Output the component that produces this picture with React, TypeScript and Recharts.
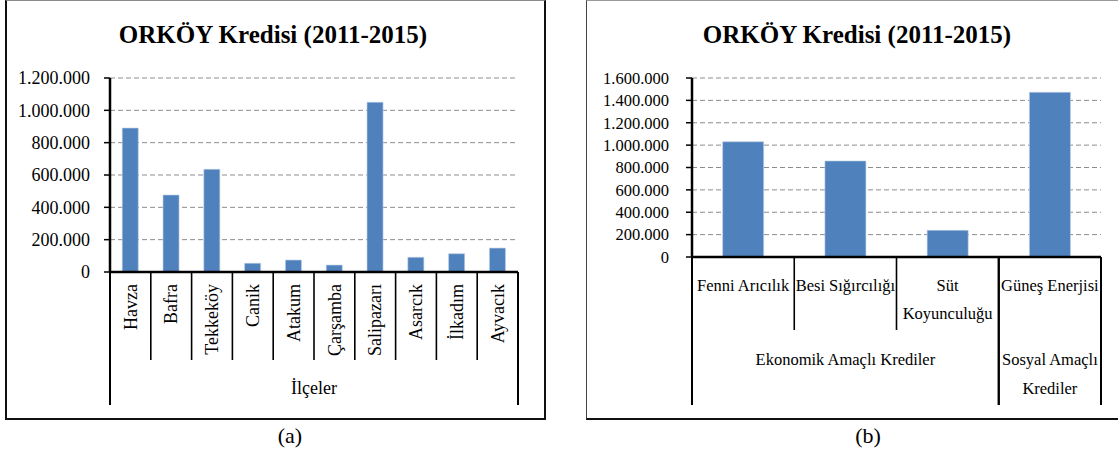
import React from 'react';
import { BarChart, Bar, XAxis, YAxis, CartesianGrid } from 'recharts';

const chartTitle = 'ORKÖY Kredisi (2011-2015)';

// (a) districts
const districts = ['Havza', 'Bafra', 'Tekkeköy', 'Canik', 'Atakum', 'Çarşamba', 'Salipazarı', 'Asarcık', 'İlkadım', 'Ayvacık'];
const districtCredits = [890000, 476000, 635000, 54000, 74000, 43000, 1050000, 91000, 113000, 148000];
const leftTicks = [0, 200000, 400000, 600000, 800000, 1000000, 1200000];
const leftGroups = [{ lines: ['İlçeler'], start: 0, end: 9 }];

// (b) credit purposes
const purposes = ['Fenni Arıcılık', 'Besi Sığırcılığı', 'Süt Koyunculuğu', 'Güneş Enerjisi'];
const purposeLines = [['Fenni Arıcılık'], ['Besi Sığırcılığı'], ['Süt', 'Koyunculuğu'], ['Güneş Enerjisi']];
const purposeCredits = [1030000, 858000, 238000, 1472000];
const rightTicks = [0, 200000, 400000, 600000, 800000, 1000000, 1200000, 1400000, 1600000];
const rightGroups = [
  { lines: ['Ekonomik Amaçlı Krediler'], start: 0, end: 2 },
  { lines: ['Sosyal Amaçlı', 'Krediler'], start: 3, end: 3 },
];

const captions = ['(a)', '(b)'];

const leftData = districts.map((name, i) => ({ name, value: districtCredits[i] }));
const rightData = purposes.map((name, i) => ({ name, value: purposeCredits[i] }));

const FONT = "'Liberation Serif', 'Times New Roman', serif";
const BAR_COLOR = '#4F81BD';
const txt = (size: number): React.CSSProperties => ({ fontFamily: FONT, fontSize: size, fill: '#000' });

const fmt = (v: number) => String(v).replace(/\B(?=(\d{3})+(?!\d))/g, '.');

const LEFT_BAND = 40.8;
const RIGHT_BAND = 102.25;

const YTick = (props: any) => {
  const { x, y, payload, size } = props;
  return (
    <text x={x} y={y} textAnchor="end" dy="0.35em" style={txt(size)}>
      {fmt(payload.value)}
    </text>
  );
};

const LeftTick = (props: any) => {
  const { x, y, payload, index } = props;
  const i = typeof index === 'number' ? index : payload.index;
  const half = LEFT_BAND / 2;
  const els: any[] = [];
  leftGroups.forEach((g, gi) => {
    if (i === g.start) {
      els.push(<line key={'gs' + gi} x1={x - half} y1={y} x2={x - half} y2={y + 133} stroke="#000" strokeWidth={2} />);
      const cx = x + ((g.end - g.start) * LEFT_BAND) / 2;
      g.lines.forEach((t, li) => {
        els.push(
          <text key={'gl' + gi + li} x={cx} y={y + 116 + li * 28} textAnchor="middle" dy="0.35em" style={txt(18)}>
            {t}
          </text>
        );
      });
    }
  });
  const isEnd = leftGroups.some((g) => g.end === i);
  return (
    <g>
      <line x1={x + half} y1={y} x2={x + half} y2={y + (isEnd ? 133 : 88)} stroke="#000" strokeWidth={isEnd ? 2 : 1.6} />
      <text x={x} y={y + 12} transform={`rotate(-90, ${x}, ${y + 12})`} textAnchor="end" dy="0.35em" style={txt(18)}>
        {payload.value}
      </text>
      {els}
    </g>
  );
};

const RightTick = (props: any) => {
  const { x, y, payload, index } = props;
  const i = typeof index === 'number' ? index : payload.index;
  const half = RIGHT_BAND / 2;
  const els: any[] = [];
  rightGroups.forEach((g, gi) => {
    if (i === g.start) {
      els.push(<line key={'gs' + gi} x1={x - half} y1={y} x2={x - half} y2={y + 148} stroke="#000" strokeWidth={2} />);
      const cx = x + ((g.end - g.start) * RIGHT_BAND) / 2;
      g.lines.forEach((t, li) => {
        els.push(
          <text key={'gl' + gi + li} x={cx} y={y + 102 + li * 29} textAnchor="middle" dy="0.35em" style={txt(16.5)}>
            {t}
          </text>
        );
      });
    }
  });
  const isEnd = rightGroups.some((g) => g.end === i);
  const lines = purposeLines[i] || [payload.value];
  return (
    <g>
      <line x1={x + half} y1={y} x2={x + half} y2={y + (isEnd ? 148 : 73)} stroke="#000" strokeWidth={isEnd ? 2 : 1.6} />
      {lines.map((t, li) => (
        <text key={li} x={x} y={y + 28 + li * 28} textAnchor="middle" dy="0.35em" style={txt(16.5)}>
          {t}
        </text>
      ))}
      {els}
    </g>
  );
};

const titleStyle = (cx: number): React.CSSProperties => ({
  position: 'absolute',
  left: cx - 200,
  width: 400,
  top: 20,
  textAlign: 'center',
  fontFamily: FONT,
  fontWeight: 'bold',
  fontSize: 25,
  lineHeight: '30px',
  color: '#000',
});

const captionStyle = (cx: number): React.CSSProperties => ({
  position: 'absolute',
  left: cx - 30,
  width: 60,
  top: 423,
  textAlign: 'center',
  fontFamily: FONT,
  fontSize: 22,
  lineHeight: '26px',
  color: '#000',
});

export default function App() {
  return (
    <div style={{ position: 'absolute', left: 0, top: 0, width: 1118, height: 452, background: '#fff', overflow: 'hidden', fontFamily: FONT }}>
      <div
        style={{
          position: 'absolute',
          left: 5,
          top: 0,
          width: 541,
          height: 420,
          boxSizing: 'border-box',
          borderTop: '1.5px solid #8a8a8a',
          borderLeft: '2px solid #111',
          borderRight: '2px solid #111',
          borderBottom: '2px solid #111',
        }}
      />
      <div
        style={{
          position: 'absolute',
          left: 586,
          top: 0,
          width: 560,
          height: 420,
          boxSizing: 'border-box',
          borderTop: '1.5px solid #9a9a9a',
          borderLeft: '1.5px solid #444',
          borderBottom: '2px solid #111',
        }}
      />

      <div style={titleStyle(273)}>{chartTitle}</div>
      <div style={titleStyle(857)}>{chartTitle}</div>

      <div style={{ position: 'absolute', left: 0, top: 0 }}>
        <BarChart width={560} height={420} data={leftData} margin={{ top: 78, right: 42, left: 10, bottom: 8 }} barCategoryGap="30%" style={{ fontFamily: FONT }}>
          <CartesianGrid vertical={false} stroke="#8c8c8c" strokeDasharray="5 3" />
          <YAxis
            type="number"
            domain={[0, 1200000]}
            ticks={leftTicks}
            interval={0}
            width={100}
            axisLine={{ stroke: '#000', strokeWidth: 2.5 }}
            tickLine={{ stroke: '#000', strokeWidth: 1.5 }}
            tickSize={6}
            tickMargin={14}
            tick={<YTick size={18} />}
          />
          <XAxis
            dataKey="name"
            interval={0}
            height={140}
            tickSize={0}
            tickMargin={0}
            tickLine={false}
            axisLine={{ stroke: '#000', strokeWidth: 2.5 }}
            tick={<LeftTick />}
          />
          <Bar dataKey="value" fill={BAR_COLOR} stroke="#b9cde6" strokeWidth={0.6} isAnimationActive={false} />
        </BarChart>
      </div>

      <div style={{ position: 'absolute', left: 560, top: 0 }}>
        <BarChart width={558} height={420} data={rightData} margin={{ top: 78, right: 17, left: 12, bottom: 8 }} barCategoryGap="30%" style={{ fontFamily: FONT }}>
          <CartesianGrid vertical={false} stroke="#8c8c8c" strokeDasharray="5 3" />
          <YAxis
            type="number"
            domain={[0, 1600000]}
            ticks={rightTicks}
            interval={0}
            width={120}
            axisLine={{ stroke: '#000', strokeWidth: 2.5 }}
            tickLine={{ stroke: '#000', strokeWidth: 1.5 }}
            tickSize={6}
            tickMargin={17}
            tick={<YTick size={16.5} />}
          />
          <XAxis
            dataKey="name"
            interval={0}
            height={155}
            tickSize={0}
            tickMargin={0}
            tickLine={false}
            axisLine={{ stroke: '#000', strokeWidth: 2.5 }}
            tick={<RightTick />}
          />
          <Bar dataKey="value" fill={BAR_COLOR} stroke="#b9cde6" strokeWidth={0.6} isAnimationActive={false} />
        </BarChart>
      </div>

      <div style={captionStyle(290)}>{captions[0]}</div>
      <div style={captionStyle(868)}>{captions[1]}</div>
    </div>
  );
}
